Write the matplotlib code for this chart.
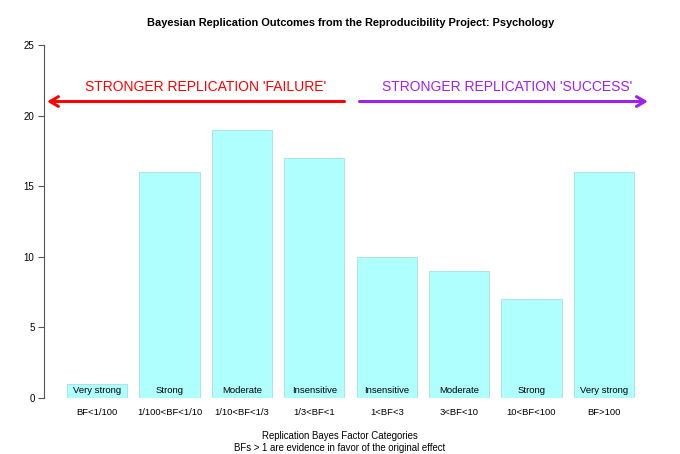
import numpy as np
import matplotlib
matplotlib.use("Agg")
import matplotlib.pyplot as plt

plt.rcParams['font.family'] = ['Liberation Sans', 'DejaVu Sans']

# data
categories = ["BF<1/100", "1/100<BF<1/10", "1/10<BF<1/3", "1/3<BF<1",
              "1<BF<3", "3<BF<10", "10<BF<100", "BF>100"]
strength = ["Very strong", "Strong", "Moderate", "Insensitive",
            "Insensitive", "Moderate", "Strong", "Very strong"]
counts = [1, 16, 19, 17, 10, 9, 7, 16]
yticks = [0, 5, 10, 15, 20, 25]

fig = plt.figure(figsize=(6.8, 4.54), dpi=100)
ax = fig.add_axes([0.0651, 0.1233, 0.9006, 0.7775])

# R barplot layout: width 1, space 0.2
x = 0.2 + np.arange(len(counts)) * 1.2 + 0.5
ax.bar(x, counts, width=1.0, color="#b0ffff", edgecolor="#a8dede", linewidth=0.6)

for xi, s in zip(x, strength):
    ax.text(xi, 0.55, s, ha="center", va="center", fontsize=6.8)
for xi, c in zip(x, categories):
    ax.text(xi, -1.05, c, ha="center", va="center", fontsize=6.8, clip_on=False)

ax.set_xlim(-0.176, 9.976)
ax.set_ylim(0, 25)

# arrows
ax.annotate("", xy=(-0.13, 21), xytext=(4.8, 21),
            arrowprops=dict(arrowstyle="->,head_length=0.6,head_width=0.35",
                            color="red", lw=2.2, shrinkA=0, shrinkB=0))
ax.annotate("", xy=(9.83, 21), xytext=(5.05, 21),
            arrowprops=dict(arrowstyle="->,head_length=0.6,head_width=0.35",
                            color="#a020f0", lw=2.2, shrinkA=0, shrinkB=0))
ax.text(2.5, 22.0, "STRONGER REPLICATION 'FAILURE'", color="red",
        ha="center", va="center", fontsize=10)
ax.text(7.5, 22.0, "STRONGER REPLICATION 'SUCCESS'", color="#a020f0",
        ha="center", va="center", fontsize=10)

for side in ["top", "right", "bottom"]:
    ax.spines[side].set_visible(False)
ax.spines["left"].set_color("#555555")
ax.spines["left"].set_bounds(0, 25)
ax.set_xticks([])
ax.set_yticks(yticks)
ax.tick_params(axis="y", labelsize=7, length=4, color="#555555", pad=3)

ax.set_title("Bayesian Replication Outcomes from the Reproducibility Project: Psychology",
             fontsize=7.9, fontweight="bold", pad=14)
fig.text(0.5, (454 - 436) / 454, "Replication Bayes Factor Categories",
         ha="center", va="center", fontsize=6.9)
fig.text(0.5, (454 - 448) / 454, "BFs > 1 are evidence in favor of the original effect",
         ha="center", va="center", fontsize=6.9)

fig.savefig("out.png", dpi=100)
